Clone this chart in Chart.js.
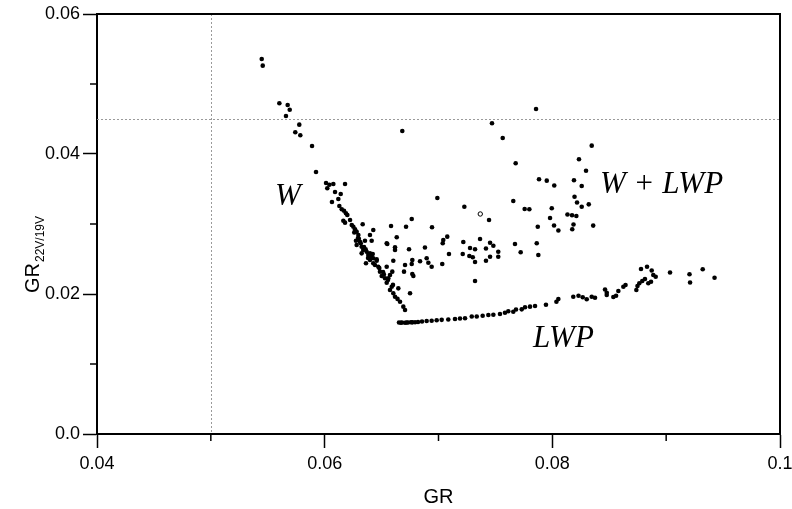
<!DOCTYPE html>
<html>
<head>
<meta charset="utf-8">
<script src="https://cdn.jsdelivr.net/npm/chart.js@4.4.1/dist/chart.umd.min.js"></script>
<style>
  html, body { margin: 0; padding: 0; background: #fff; }
  #wrap { width: 792px; height: 509px; position: relative; }
</style>
</head>
<body>
<div id="wrap"><canvas id="c" width="792" height="509"></canvas></div>
<script>
// ---- Data (GR, GR22V/19V) ----
const branchW = [
  [0.05447,0.05357],[0.05456,0.05262],[0.05602,0.04724],[0.05675,0.04700],[0.05693,0.04633],
  [0.05660,0.04543],[0.05777,0.04419],[0.05742,0.04310],[0.05786,0.04267],[0.05889,0.04114],
  [0.05924,0.03743],[0.06012,0.03586],[0.06041,0.03561],[0.06076,0.03571],[0.06179,0.03571],
  [0.06023,0.03510],[0.06091,0.03457],[0.06141,0.03429],[0.06120,0.03357],[0.06064,0.03314],
  [0.06129,0.03257],[0.06150,0.03210],[0.06170,0.03190],[0.06187,0.03153],[0.06199,0.03129],
  [0.06164,0.03047],[0.06179,0.03019],[0.06238,0.02986],[0.06252,0.02961],[0.06334,0.02996],
  [0.06267,0.02924],[0.06281,0.02890],[0.06427,0.02914],[0.06296,0.02843],[0.06398,0.02843],
  [0.06275,0.02761],[0.06310,0.02747],[0.06354,0.02761],[0.06413,0.02761],[0.06281,0.02700],
  [0.06325,0.02676],[0.06339,0.02629],[0.06369,0.02604],[0.06317,0.02724],[0.06398,0.02581],
  [0.06427,0.02510],[0.06383,0.02557],[0.06457,0.02496],[0.06325,0.02581],[0.06422,0.02571],
  [0.06398,0.02486],[0.06427,0.02439],[0.06363,0.02439],[0.06457,0.02476],[0.06471,0.02390],
  [0.06486,0.02319],[0.06501,0.02257],[0.06530,0.02224],[0.06574,0.02271],[0.06545,0.02161],
  [0.06589,0.02104],[0.06574,0.02057],[0.06647,0.02081],[0.06603,0.02010],[0.06618,0.01961],
  [0.06662,0.01890],[0.06691,0.01819],[0.06706,0.01771],[0.06223,0.03057],[0.06293,0.02800],
  [0.06346,0.02671],[0.06381,0.02514],[0.06442,0.02414],[0.06513,0.02314],[0.06556,0.02200],
  [0.06260,0.02880],[0.06300,0.02790],[0.06360,0.02640],[0.06410,0.02530],[0.06480,0.02370],
  [0.06520,0.02280],[0.06600,0.02130],[0.06640,0.01930]
];
const branchWL = [
  [0.06682,0.04329],[0.06990,0.03371],[0.07857,0.04643],[0.07470,0.04439],[0.07564,0.04229],
  [0.08346,0.04119],[0.08234,0.03924],[0.07678,0.03867],[0.08296,0.03761],[0.07883,0.03639],
  [0.07951,0.03619],[0.08017,0.03550],[0.08190,0.03624],[0.08258,0.03543],[0.07227,0.03247],
  [0.07657,0.03329],[0.07757,0.03214],[0.07798,0.03210],[0.07995,0.03226],[0.08195,0.03389],
  [0.08217,0.03307],[0.08258,0.03246],[0.08320,0.03281],[0.08133,0.03136],[0.08173,0.03124],
  [0.08211,0.03114],[0.07980,0.03086],[0.07444,0.03057],[0.06943,0.02953],[0.07872,0.02961],
  [0.08015,0.02979],[0.08053,0.02907],[0.08186,0.02993],[0.08175,0.02924],[0.08359,0.02977],
  [0.07077,0.02819],[0.07042,0.02771],[0.07037,0.02724],[0.07218,0.02743],[0.07365,0.02786],
  [0.07277,0.02657],[0.07321,0.02639],[0.07417,0.02650],[0.07453,0.02733],[0.07482,0.02690],
  [0.07672,0.02714],[0.07863,0.02724],[0.07092,0.02571],[0.07213,0.02571],[0.07271,0.02543],
  [0.07301,0.02524],[0.07321,0.02457],[0.07417,0.02476],[0.07453,0.02533],[0.07525,0.02604],
  [0.07525,0.02533],[0.07722,0.02596],[0.07877,0.02557],[0.07033,0.02429],[0.06940,0.02390],
  [0.07321,0.02186],[0.06765,0.03071],[0.06583,0.02971],[0.06715,0.02961],[0.06633,0.02810],
  [0.06545,0.02724],[0.06618,0.02629],[0.06741,0.02639],[0.06881,0.02664],[0.06603,0.02476],
  [0.06770,0.02486],[0.06838,0.02467],[0.06896,0.02510],[0.06911,0.02447],[0.06706,0.02414],
  [0.06765,0.02429],[0.06594,0.02319],[0.06697,0.02319],[0.06770,0.02286],[0.06779,0.02257],
  [0.06559,0.02224],[0.06750,0.02010],[0.06550,0.02714],[0.06618,0.02667],[0.06545,0.02390]
];
const branchWLHollow = [[0.07367,0.03143]];
const branchLWP = [
  [0.06653,0.01593],[0.06679,0.01593],[0.06706,0.01590],[0.06732,0.01593],[0.06758,0.01596],
  [0.06794,0.01596],[0.06855,0.01607],[0.06896,0.01614],[0.06940,0.01617],[0.06984,0.01624],
  [0.07028,0.01631],[0.07086,0.01636],[0.07145,0.01643],[0.07189,0.01649],[0.07233,0.01653],
  [0.07292,0.01679],[0.07336,0.01679],[0.07388,0.01689],[0.07438,0.01700],[0.07482,0.01703],
  [0.07540,0.01714],[0.07584,0.01733],[0.07613,0.01754],[0.07657,0.01747],[0.07681,0.01779],
  [0.07731,0.01781],[0.07760,0.01810],[0.07804,0.01819],[0.07848,0.01829],[0.07944,0.01846],
  [0.08036,0.01890],[0.08053,0.01929],[0.08184,0.01961],[0.08230,0.01974],[0.08267,0.01953],
  [0.08302,0.01926],[0.08346,0.01961],[0.08375,0.01947],[0.08463,0.02064],[0.08478,0.02017],
  [0.08478,0.01986],[0.08536,0.01957],[0.08560,0.01976],[0.08580,0.02043],[0.08624,0.02104],
  [0.08643,0.02129],[0.08738,0.02057],[0.08748,0.02114],[0.08764,0.02153],[0.08790,0.02186],
  [0.08814,0.02214],[0.08779,0.02357],[0.08832,0.02390],[0.08873,0.02336],[0.08843,0.02153],
  [0.08867,0.02176],[0.08908,0.02247],[0.08887,0.02271],[0.09034,0.02307],[0.09205,0.02283],
  [0.09210,0.02164],[0.09321,0.02353],[0.09425,0.02233],
  [0.06670,0.01590],[0.06720,0.01592],[0.06770,0.01595],[0.06820,0.01600]
];
const xMajorTicks = [0.04, 0.06, 0.08, 0.1];
const xTickLabels = ['0.04', '0.06', '0.08', '0.1'];
const xMinorTicks = [0.05, 0.07, 0.09];
const yMajorTicks = [0, 0.02, 0.04, 0.06];
const yTickLabels = ['0.0', '0.02', '0.04', '0.06'];
const yMinorTicks = [0.01, 0.03, 0.05];
const refLineX = 0.05;
const refLineY = 0.045;
const regionLabels = [
  { text: 'W', x: 0.05564, y: 0.03271 },
  { text: 'W + LWP', x: 0.08419, y: 0.03443 },
  { text: 'LWP', x: 0.07830, y: 0.01243 }
];

const toPts = arr => arr.map(p => ({ x: p[0], y: p[1] }));

Chart.defaults.font.family = '"Liberation Sans", Arial, sans-serif';
Chart.defaults.color = '#000';

const framePlugin = {
  id: 'frame',
  beforeDatasetsDraw(chart) {
    const { ctx, chartArea: a, scales: { x, y } } = chart;
    ctx.save();
    ctx.strokeStyle = '#9a9a9a';
    ctx.lineWidth = 1;
    ctx.setLineDash([2, 2]);
    const px = Math.round(x.getPixelForValue(refLineX)) + 0.5;
    ctx.beginPath(); ctx.moveTo(px, a.top); ctx.lineTo(px, a.bottom); ctx.stroke();
    const py = Math.round(y.getPixelForValue(refLineY)) + 0.5;
    ctx.beginPath(); ctx.moveTo(a.left, py); ctx.lineTo(a.right, py); ctx.stroke();
    ctx.restore();
  },
  afterDraw(chart) {
    const { ctx, chartArea: a, scales: { x, y } } = chart;
    ctx.save();
    ctx.strokeStyle = '#000';
    ctx.lineWidth = 2;
    ctx.setLineDash([]);
    ctx.beginPath();
    ctx.moveTo(a.left, a.top); ctx.lineTo(a.right, a.top); ctx.lineTo(a.right, a.bottom);
    ctx.stroke();
    // minor ticks
    ctx.lineWidth = 1.5;
    xMinorTicks.forEach(v => {
      const p = x.getPixelForValue(v);
      ctx.beginPath(); ctx.moveTo(p, a.bottom); ctx.lineTo(p, a.bottom + 7); ctx.stroke();
    });
    yMinorTicks.forEach(v => {
      const p = y.getPixelForValue(v);
      ctx.beginPath(); ctx.moveTo(a.left, p); ctx.lineTo(a.left - 7, p); ctx.stroke();
    });
    // region labels
    ctx.fillStyle = '#000';
    ctx.font = 'italic 31px "Liberation Serif", "Times New Roman", serif';
    ctx.textBaseline = 'alphabetic';
    ctx.textAlign = 'left';
    regionLabels.forEach(l => {
      ctx.fillText(l.text, x.getPixelForValue(l.x), y.getPixelForValue(l.y));
    });
    // y axis title with subscript
    ctx.translate(39, 293);
    ctx.rotate(-Math.PI / 2);
    ctx.font = '20px "Liberation Sans", Arial, sans-serif';
    ctx.textAlign = 'left';
    ctx.fillText('GR', 0, 0);
    const w = ctx.measureText('GR').width;
    ctx.font = '12px "Liberation Sans", Arial, sans-serif';
    ctx.fillText('22V/19V', w + 1, 5);
    ctx.restore();
  }
};

const dotStyle = { backgroundColor: '#000', borderColor: '#000', pointRadius: 2.3, borderWidth: 0 };

new Chart(document.getElementById('c'), {
  type: 'scatter',
  data: {
    datasets: [
      Object.assign({ data: toPts(branchW) }, dotStyle),
      Object.assign({ data: toPts(branchWL) }, dotStyle),
      Object.assign({ data: toPts(branchLWP) }, dotStyle),
      { data: toPts(branchWLHollow), backgroundColor: '#fff', borderColor: '#000', pointRadius: 2.2, borderWidth: 1 }
    ]
  },
  options: {
    responsive: false,
    animation: false,
    events: [],
    layout: { padding: { left: 0, top: 14, right: 12, bottom: 0 } },
    plugins: { legend: { display: false }, tooltip: { enabled: false } },
    scales: {
      x: {
        type: 'linear', min: 0.04, max: 0.1,
        afterBuildTicks: s => { s.ticks = xMajorTicks.map(v => ({ value: v })); },
        afterFit: s => { s.height = 75; s.paddingLeft = 0; s.paddingRight = 0; },
        ticks: {
          font: { size: 18 }, padding: 5, maxRotation: 0,
          callback: (v) => { const i = xMajorTicks.findIndex(t => Math.abs(t - v) < 1e-9); return i >= 0 ? xTickLabels[i] : ''; }
        },
        grid: { drawOnChartArea: false, drawTicks: true, tickLength: 14, tickWidth: 1.5, tickColor: '#000' },
        border: { display: true, color: '#000', width: 2 },
        title: { display: true, text: 'GR', font: { size: 20 }, padding: { top: 2, bottom: 0 } }
      },
      y: {
        type: 'linear', min: 0, max: 0.06,
        afterBuildTicks: s => { s.ticks = yMajorTicks.map(v => ({ value: v })); },
        afterFit: s => { s.width = 97; s.paddingTop = 0; s.paddingBottom = 0; },
        ticks: {
          font: { size: 18 }, padding: 3,
          callback: (v) => { const i = yMajorTicks.findIndex(t => Math.abs(t - v) < 1e-9); return i >= 0 ? yTickLabels[i] : ''; }
        },
        grid: { drawOnChartArea: false, drawTicks: true, tickLength: 14, tickWidth: 1.5, tickColor: '#000' },
        border: { display: true, color: '#000', width: 2 }
      }
    }
  },
  plugins: [framePlugin]
});
</script>
</body>
</html>
